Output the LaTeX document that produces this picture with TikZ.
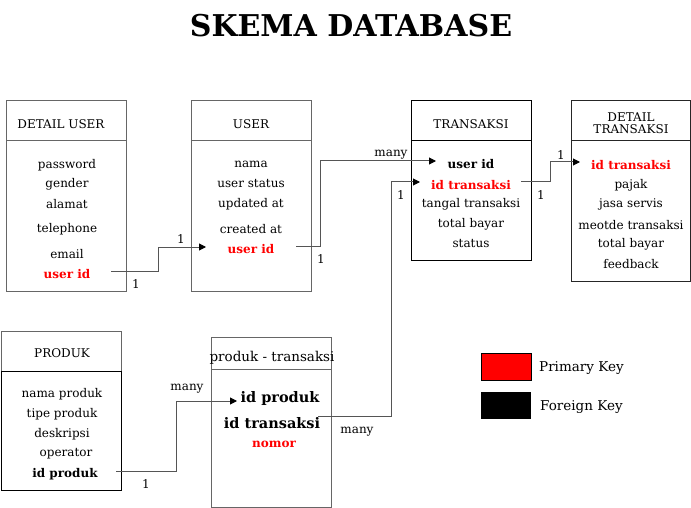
\documentclass[tikz,border=0pt]{standalone}
\usepackage{fontspec}
\setmainfont{DejaVu Serif}
\usetikzlibrary{arrows.meta,calc}
\definecolor{pkred}{HTML}{FF0000}
\definecolor{boxgray}{HTML}{666666}
\definecolor{linegray}{HTML}{555555}

\begin{document}
\begin{tikzpicture}[x=1pt,y=-1pt,>={Triangle[length=7pt,width=7pt,color=black]},
  attr/.style={font=\fontsize{12}{14}\selectfont,inner sep=0pt,yshift=-2pt},
  head/.style={attr,yshift=2pt},
  key/.style={inner sep=0pt,yshift=-2pt,font=\fontsize{12}{14}\selectfont\bfseries},
  bigkey/.style={inner sep=0pt,yshift=-2pt,font=\fontsize{14.5}{16}\selectfont\bfseries},
  pk/.style={key,text=pkred},
  legend/.style={inner sep=0pt,anchor=west,font=\fontsize{13.5}{16}\selectfont},
  rel/.style={->,linegray,line width=1pt},
  tbl/.style={line width=1pt}]
  \useasboundingbox (0,0) rectangle (691,508);
  % judul
  \node[font=\fontsize{30}{34}\selectfont\bfseries] (title) at (351,26) {SKEMA DATABASE};

  % tabel detail user
  \draw[tbl,boxgray] (6,101) rectangle (126,291);
  \draw[tbl,boxgray] (6,141) -- (126,141);
  \node[head] (du-head) at (61,124) {DETAIL USER};
  \node[attr] (du-pw) at (67,163) {password};
  \node[attr] (du-gd) at (67,182) {gender};
  \node[attr] (du-al) at (67,202) {alamat};
  \node[attr] (du-tl) at (67,227) {telephone};
  \node[attr] (du-em) at (67,252) {email};
  \node[pk] (du-uid) at (67,272) {user id};

  % tabel user
  \draw[tbl,boxgray] (191,101) rectangle (311,291);
  \draw[tbl,boxgray] (191,141) -- (311,141);
  \node[head] (u-head) at (251,124) {USER};
  \node[attr] (u-nm) at (251,162) {nama};
  \node[attr] (u-st) at (251,182) {user status};
  \node[attr] (u-up) at (251,202) {updated at};
  \node[attr] (u-cr) at (251,227) {created at};
  \node[pk] (u-uid) at (251,247) {user id};

  % tabel transaksi
  \draw[tbl] (411,101) rectangle (531,260);
  \draw[tbl] (411,141) -- (531,141);
  \node[head] (t-head) at (471,124) {TRANSAKSI};
  \node[key] (t-uid) at (471,162) {user id};
  \node[pk] (t-tid) at (471,183) {id transaksi};
  \node[attr] (t-tg) at (471,202) {tangal transaksi};
  \node[attr] (t-tb) at (471,222) {total bayar};
  \node[attr] (t-st) at (471,242) {status};

  % tabel detail transaksi
  \draw[tbl,black!85] (571,101) rectangle (690,281);
  \draw[tbl,black!85] (571,141) -- (690,141);
  \node[head,align=center] (dt-head) at (631,123) {DETAIL\\[-2pt]TRANSAKSI};
  \node[pk] (dt-tid) at (631,163) {id transaksi};
  \node[attr] (dt-pj) at (631,183) {pajak};
  \node[attr] (dt-js) at (631,202) {jasa servis};
  \node[attr] (dt-mt) at (631,223) {meotde transaksi};
  \node[attr] (dt-tb) at (631,242) {total bayar};
  \node[attr] (dt-fb) at (631,262) {feedback};

  % tabel produk
  \draw[tbl] (1,371) rectangle (121,490);
  \draw[tbl,boxgray] (1,371) -- (1,331) -- (121,331) -- (121,371);
  \node[head] (p-head) at (62,353) {PRODUK};
  \node[attr] (p-nm) at (62,392) {nama produk};
  \node[attr] (p-tp) at (62,412) {tipe produk};
  \node[attr] (p-ds) at (62,432) {deskripsi};
  \node[attr] (p-op) at (66,452) {operator};
  \node[key] (p-pid) at (65,472) {id produk};

  % tabel produk - transaksi
  \draw[tbl,boxgray] (211,337) rectangle (331,507);
  \draw[tbl,boxgray] (211,369) -- (331,369);
  \node[inner sep=0pt,yshift=-1pt,font=\fontsize{13.5}{16}\selectfont] (pt-head) at (272,357) {produk - transaksi};
  \node[bigkey] (pt-pid) at (280,396) {id produk};
  \node[bigkey] (pt-tid) at (272,421) {id transaksi};
  \node[pk] (pt-no) at (274,442) {nomor};

  % titik ujung relasi
  \coordinate (du-out) at (111,271);
  \coordinate (u-in) at (206,247);
  \coordinate (u-out) at (296,246);
  \coordinate (t-uin) at (436,161);
  \coordinate (t-out) at (521,182);
  \coordinate (dt-in) at (580,162);
  \coordinate (pt-out) at (318,416);
  \coordinate (t-tin) at (420,182);
  \coordinate (p-out) at (116,471);
  \coordinate (pt-in) at (237,401);

  % relasi
  \draw[rel] (du-out) -- ++(47,0) |- (u-in);
  \draw[rel] (u-out) -- ++(24,0) |- (t-uin);
  \draw[rel] (t-out) -- ++(29,0) |- (dt-in);
  \draw[rel] (pt-out) -- ++(73,0) |- (t-tin);
  \draw[rel] (p-out) -- ++(60,0) |- (pt-in);

  % kardinalitas
  \node[attr] (c1a) at (136,282) {1};
  \node[attr] (c1b) at (181,237) {1};
  \node[attr] (c2a) at (321,257) {1};
  \node[attr] (c2b) at (391,153) {many};
  \node[attr] (c3a) at (541,193) {1};
  \node[attr] (c3b) at (561,153) {1};
  \node[attr] (c4a) at (357,430) {many};
  \node[attr] (c4b) at (401,193) {1};
  \node[attr] (c5a) at (146,482) {1};
  \node[attr] (c5b) at (187,387) {many};

  % keterangan
  \draw[fill=pkred] (481,353) rectangle (531,380);
  \fill (481,392) rectangle (531,419);
  \node[legend] (lg-pk) at (539,368) {Primary Key};
  \node[legend] (lg-fk) at (540,407) {Foreign Key};
\end{tikzpicture}
\end{document}
